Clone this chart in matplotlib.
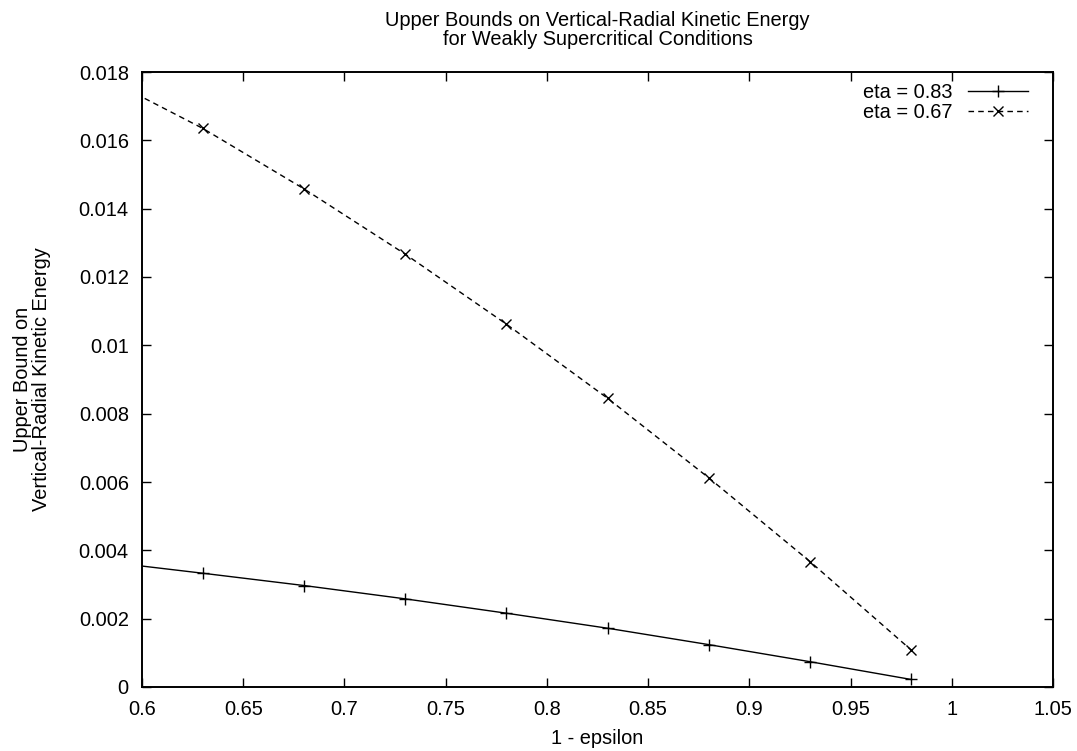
import matplotlib
matplotlib.use("Agg")
import matplotlib.pyplot as plt
from matplotlib.ticker import FuncFormatter, MultipleLocator

plt.rcParams['font.family'] = ['Liberation Sans', 'DejaVu Sans']

# Data
x_vals = [0.58, 0.63, 0.68, 0.73, 0.78, 0.83, 0.88, 0.93, 0.98]
eta_083 = [0.00368, 0.00333, 0.00297, 0.00258, 0.00216, 0.00172, 0.00124, 0.00074, 0.00022]
eta_067 = [0.01788, 0.01635, 0.01458, 0.01267, 0.01062, 0.00845, 0.00612, 0.00367, 0.00108]
labels = ["eta = 0.83", "eta = 0.67"]

title = "Upper Bounds on Vertical-Radial Kinetic Energy\nfor Weakly Supercritical Conditions"
xlabel = "1 - epsilon"
ylabel = "Upper Bound on\nVertical-Radial Kinetic Energy"

W, H = 1077, 751
fig = plt.figure(figsize=(W / 100, H / 100), dpi=100)
L, R, T, B = 142, 1053, 72, 687
ax = fig.add_axes([L / W, 1 - B / H, (R - L) / W, (B - T) / H])

fs = 14.4
ax.plot(x_vals, eta_083, color='black', lw=1.0, marker='+', ms=9, mew=1.0, label=labels[0])
ax.plot(x_vals, eta_067, color='black', lw=1.0, ls=(0, (4, 3)), marker='x', ms=7, mew=1.0, label=labels[1])

ax.set_xlim(0.6, 1.05)
ax.set_ylim(0, 0.018)
ax.xaxis.set_major_locator(MultipleLocator(0.05))
ax.yaxis.set_major_locator(MultipleLocator(0.002))
fmt = FuncFormatter(lambda v, p: "%g" % round(v, 6))
ax.xaxis.set_major_formatter(fmt)
ax.yaxis.set_major_formatter(fmt)
ax.tick_params(direction='in', length=6.5, width=1.0, top=True, right=True,
               labelsize=fs, pad=9.5)
for s in ax.spines.values():
    s.set_linewidth(1.4)

ax.set_xlabel(xlabel, fontsize=fs)
ax.xaxis.set_label_coords(0.5, (B - 738) / (B - T))
ax.xaxis.label.set_va('center')
ax.set_ylabel(ylabel, fontsize=fs, linespacing=0.95)
ax.yaxis.set_label_coords((32 - L) / (R - L), 0.5)
ax.yaxis.label.set_va('center')

fig.text(((L + R) / 2) / W, 1 - 30 / H, title, ha='center', va='center',
         fontsize=fs, linespacing=0.95)

leg = ax.legend(loc='upper right', frameon=False, markerfirst=False, fontsize=fs,
                handlelength=3.0, handletextpad=0.75, labelspacing=0.05,
                borderaxespad=0.0, borderpad=0.0,
                bbox_to_anchor=((1028 - L) / (R - L), 1 - (83 - T) / (B - T)))

fig.savefig("out.png", dpi=100)
